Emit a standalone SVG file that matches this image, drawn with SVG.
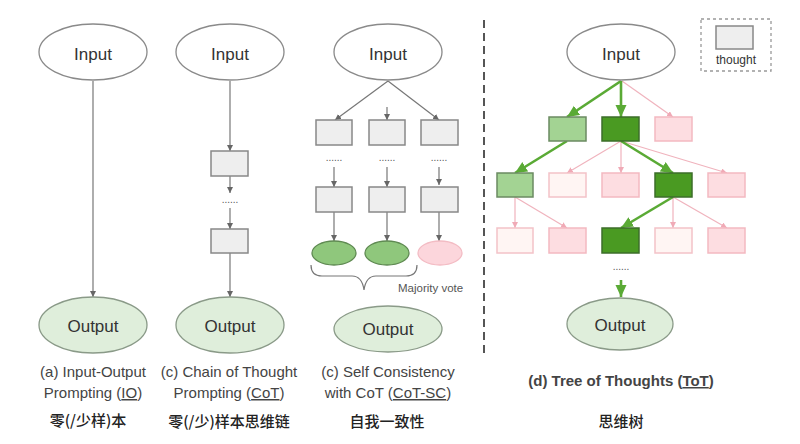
<svg xmlns="http://www.w3.org/2000/svg" width="800" height="444" viewBox="0 0 800 444">
<defs>
<style>
.io{fill:#ffffff;stroke:#8a8a8a;stroke-width:1.3}
.out{fill:#dfeedb;stroke:#8a9a88;stroke-width:1.3}
.th{fill:#eeeeee;stroke:#888888;stroke-width:1.5}
.lg{fill:#a3d393;stroke:#6b8a62;stroke-width:1.5}
.dg{fill:#4a9a22;stroke:#3d6e2a;stroke-width:1.5}
.pk{fill:#fddde1;stroke:#f3b9c1;stroke-width:1.5}
.vp{fill:#fff5f3;stroke:#f3c2c8;stroke-width:1.5}
.gv{fill:#8fc77c;stroke:#5f8a52;stroke-width:1.3}
.pv{fill:#fcd6dc;stroke:#f3bcc4;stroke-width:1.3}
.lbl{font-family:"Liberation Sans",Arial,sans-serif;fill:#333;text-anchor:middle}
.cap{font-family:"Liberation Sans",Arial,sans-serif;font-size:15px;fill:#444;text-anchor:middle}
.cn{font-family:"Noto Sans CJK SC","Liberation Sans",sans-serif;font-size:15px;font-weight:500;fill:#222;text-anchor:middle}
.dots{font-family:"Liberation Sans",Arial,sans-serif;font-size:10px;fill:#555;text-anchor:middle}
.ga{stroke:#777;stroke-width:1.2;fill:none;marker-end:url(#ah)}
.gl{stroke:#777;stroke-width:1.2;fill:none}
.pa{stroke:#f0b3bd;stroke-width:1.2;fill:none;marker-end:url(#ahp)}
.gr{stroke:#5aaa35;stroke-width:2.6;fill:none;marker-end:url(#ahg)}
</style>
<marker id="ah" markerUnits="userSpaceOnUse" markerWidth="8" markerHeight="8" refX="6" refY="3" orient="auto"><path d="M0,0 L6,3 L0,6 z" fill="#666"/></marker>
<marker id="ahp" markerUnits="userSpaceOnUse" markerWidth="8" markerHeight="8" refX="6" refY="3" orient="auto"><path d="M0,0 L6,3 L0,6 z" fill="#f0aab6"/></marker>
<marker id="ahg" markerUnits="userSpaceOnUse" markerWidth="14" markerHeight="12" refX="12" refY="5.5" orient="auto"><path d="M0,0 L12,5.5 L0,11 z" fill="#5aaa35"/></marker>
</defs>
<rect width="800" height="444" fill="#ffffff"/>

<!-- connectors -->
<g id="connectors">
  <!-- (a) -->
  <line class="ga" x1="93" y1="81" x2="93" y2="297"/>
  <!-- (b) CoT -->
  <line class="ga" x1="230" y1="81" x2="230" y2="151"/>
  <line class="ga" x1="230" y1="176" x2="230" y2="193"/>
  <line class="ga" x1="230" y1="208" x2="230" y2="229"/>
  <line class="ga" x1="230" y1="253" x2="230" y2="297"/>
  <!-- (c) CoT-SC -->
  <line class="ga" x1="388" y1="81" x2="335" y2="120"/>
  <line class="ga" x1="387" y1="107" x2="387" y2="120"/>
  <line class="ga" x1="388" y1="81" x2="439" y2="120"/>
  <line class="ga" x1="334" y1="167" x2="334" y2="187"/>
  <line class="ga" x1="387" y1="167" x2="387" y2="187"/>
  <line class="ga" x1="439" y1="167" x2="439" y2="185"/>
  <line class="ga" x1="334" y1="212" x2="334" y2="241"/>
  <line class="ga" x1="387" y1="212" x2="387" y2="241"/>
  <line class="ga" x1="439" y1="212" x2="439" y2="241"/>
  <path class="gl" d="M311,265 Q311,276 322,276 L352,276 Q362,276 364,290 Q366,276 376,276 L406,276 Q417,276 417,265"/>
  <!-- (d) ToT -->
  <line class="pa" x1="622" y1="81" x2="673" y2="117"/>
  <line class="pa" x1="621" y1="141" x2="567" y2="173"/>
  <line class="pa" x1="621" y1="141" x2="621" y2="173"/>
  <line class="pa" x1="621" y1="141" x2="727" y2="173"/>
  <line class="pa" x1="515" y1="197" x2="515" y2="228"/>
  <line class="pa" x1="515" y1="197" x2="567" y2="228"/>
  <line class="pa" x1="673" y1="197" x2="673" y2="228"/>
  <line class="pa" x1="673" y1="197" x2="727" y2="228"/>
  <line class="gr" x1="621" y1="81" x2="567" y2="117"/>
  <line class="gr" x1="621" y1="81" x2="621" y2="117"/>
  <line class="gr" x1="567" y1="141" x2="515" y2="173"/>
  <line class="gr" x1="621" y1="141" x2="673" y2="173"/>
  <line class="gr" x1="673" y1="197" x2="621" y2="228"/>
  <line class="gr" x1="621" y1="280" x2="621" y2="297"/>
</g>

<!-- separator -->
<line x1="484" y1="20" x2="484" y2="357" stroke="#555" stroke-width="2" stroke-dasharray="8,5"/>

<!-- (a) IO -->
<g id="a-input"><ellipse class="io" cx="93" cy="52" rx="54" ry="28"/><text class="lbl" x="93" y="60" font-size="17">Input</text></g>
<g id="a-output"><ellipse class="out" cx="93" cy="325" rx="54" ry="28"/><text class="lbl" x="93" y="332" font-size="17">Output</text></g>

<!-- (b) CoT -->
<g id="b-input"><ellipse class="io" cx="230" cy="52" rx="54" ry="28"/><text class="lbl" x="230" y="60" font-size="17">Input</text></g>
<g id="b-t1"><rect class="th" x="211" y="151" width="37" height="25"/></g>
<text class="dots" x="230" y="203">......</text>
<g id="b-t2"><rect class="th" x="211" y="229" width="37" height="24"/></g>
<g id="b-output"><ellipse class="out" cx="230" cy="325" rx="54" ry="28"/><text class="lbl" x="230" y="332" font-size="17">Output</text></g>

<!-- (c) CoT-SC -->
<g id="c-input"><ellipse class="io" cx="388" cy="52" rx="54" ry="28"/><text class="lbl" x="388" y="60" font-size="17">Input</text></g>
<g id="c-t11"><rect class="th" x="316" y="120" width="36" height="25"/></g>
<g id="c-t12"><rect class="th" x="369" y="120" width="36" height="25"/></g>
<g id="c-t13"><rect class="th" x="421" y="120" width="37" height="25"/></g>
<text class="dots" x="334" y="161">......</text>
<text class="dots" x="387" y="161">......</text>
<text class="dots" x="439" y="161">......</text>
<g id="c-t21"><rect class="th" x="316" y="187" width="36" height="25"/></g>
<g id="c-t22"><rect class="th" x="369" y="187" width="36" height="25"/></g>
<g id="c-t23"><rect class="th" x="421" y="187" width="37" height="25"/></g>
<g id="c-v1"><ellipse class="gv" cx="334" cy="253" rx="22" ry="12"/></g>
<g id="c-v2"><ellipse class="gv" cx="387" cy="253" rx="22" ry="12"/></g>
<g id="c-v3"><ellipse class="pv" cx="440" cy="253" rx="22" ry="12"/></g>
<text x="398" y="292" font-family="Liberation Sans,Arial,sans-serif" font-size="11.5" fill="#555">Majority vote</text>
<g id="c-output"><ellipse class="out" cx="388" cy="329" rx="54" ry="23"/><text class="lbl" x="388" y="335" font-size="17">Output</text></g>

<!-- (d) ToT -->
<g id="legend">
  <rect x="701" y="19" width="70" height="52" fill="none" stroke="#999" stroke-width="1.3" stroke-dasharray="3,3"/>
  <rect class="th" x="716" y="26" width="37" height="23"/>
  <text class="lbl" x="736" y="64" font-size="12">thought</text>
</g>
<g id="d-input"><ellipse class="io" cx="621" cy="52" rx="54" ry="28"/><text class="lbl" x="621" y="60" font-size="17">Input</text></g>
<g id="d-r1a"><rect class="lg" x="549" y="117" width="37" height="24"/></g>
<g id="d-r1b"><rect class="dg" x="602" y="117" width="37" height="24"/></g>
<g id="d-r1c"><rect class="pk" x="655" y="117" width="37" height="24"/></g>
<g id="d-r2a"><rect class="lg" x="497" y="173" width="36" height="24"/></g>
<g id="d-r2b"><rect class="vp" x="549" y="173" width="37" height="24"/></g>
<g id="d-r2c"><rect class="pk" x="602" y="173" width="37" height="24"/></g>
<g id="d-r2d"><rect class="dg" x="655" y="173" width="37" height="24"/></g>
<g id="d-r2e"><rect class="pk" x="708" y="173" width="37" height="24"/></g>
<g id="d-r3a"><rect class="vp" x="497" y="228" width="36" height="25"/></g>
<g id="d-r3b"><rect class="pk" x="549" y="228" width="37" height="25"/></g>
<g id="d-r3c"><rect class="dg" x="602" y="228" width="37" height="25"/></g>
<g id="d-r3d"><rect class="vp" x="655" y="228" width="37" height="25"/></g>
<g id="d-r3e"><rect class="pk" x="708" y="228" width="37" height="25"/></g>
<text class="dots" x="621" y="270">......</text>
<g id="d-output"><ellipse class="out" cx="620" cy="324" rx="53" ry="26"/><text class="lbl" x="620" y="331" font-size="17">Output</text></g>

<!-- captions -->
<text class="cap" x="93" y="377">(a) Input-Output</text>
<text class="cap" x="93" y="398">Prompting (<tspan text-decoration="underline">IO</tspan>)</text>
<text class="cap" x="229" y="377">(c) Chain of Thought</text>
<text class="cap" x="229" y="398">Prompting (<tspan text-decoration="underline">CoT</tspan>)</text>
<text class="cap" x="388" y="377">(c) Self Consistency</text>
<text class="cap" x="388" y="398">with CoT (<tspan text-decoration="underline">CoT-SC</tspan>)</text>
<text class="cap" x="621" y="386" font-weight="bold" fill="#222">(d) Tree of Thoughts (<tspan text-decoration="underline">ToT</tspan>)</text>
<text class="cn" x="88" y="426">零(/少样)本</text>
<text class="cn" x="229" y="427">零(/少)样本思维链</text>
<text class="cn" x="387" y="427">自我一致性</text>
<text class="cn" x="621" y="427">思维树</text>
</svg>
